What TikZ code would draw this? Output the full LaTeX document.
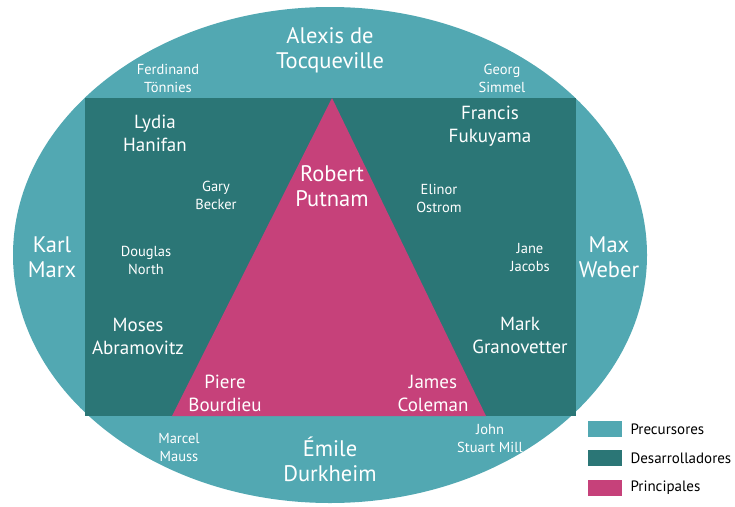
\documentclass[tikz,border=0pt]{standalone}
\usepackage{fontspec}
\setmainfont{PT Sans}
\definecolor{precur}{HTML}{52A8B2}
\definecolor{desarr}{HTML}{2B7676}
\definecolor{princ}{HTML}{C6417A}

\begin{document}
\begin{tikzpicture}[x=1pt, y=-1pt,
    big/.style={text=white, align=center, font=\fontsize{22.5}{25}\selectfont},
    mid/.style={text=white, align=center, font=\fontsize{19}{23}\selectfont},
    small/.style={text=white, align=center, font=\fontsize{14.5}{18}\selectfont},
    legend/.style={font=\fontsize{15}{17}\selectfont, anchor=west}]
    \useasboundingbox (0,0) rectangle (735,506);

    % capas del diagrama
    \fill[precur] (330,255) ellipse [x radius=317, y radius=248];
    \fill[desarr] (85,98) rectangle (576,416);
    \fill[princ] (332,98) -- (486,416) -- (172,416) -- cycle;

    % precursores
    \node[big] (tocq) at (330,50) {Alexis de\\Tocqueville};
    \node[small] (tonn) at (168,78) {Ferdinand\\Tönnies};
    \node[small] (simm) at (502,78) {Georg\\Simmel};
    \node[big] (marx) at (52,257) {Karl\\Marx};
    \node[big] (weber) at (609,257) {Max\\Weber};
    \node[small] (mauss) at (179,448) {Marcel\\Mauss};
    \node[big] (durk) at (330,459) {Émile\\Durkheim};
    \node[small] (mill) at (490,439) {John\\Stuart Mill};

    % desarrolladores
    \node[mid] (hani) at (155,133) {Lydia\\Hanifan};
    \node[mid] (fuku) at (490,126) {Francis\\Fukuyama};
    \node[small] (beck) at (216,195) {Gary\\Becker};
    \node[small] (ostr) at (439,198) {Elinor\\Ostrom};
    \node[small] (nort) at (146,260) {Douglas\\North};
    \node[small] (jaco) at (530,258) {Jane\\Jacobs};
    \node[mid] (abra) at (138,336) {Moses\\Abramovitz};
    \node[mid] (gran) at (520,335) {Mark\\Granovetter};

    % principales
    \node[big] (putn) at (332,186) {Robert\\Putnam};
    \node[mid] (bour) at (225,393) {Piere\\Bourdieu};
    \node[mid] (cole) at (433,393) {James\\Coleman};

    % leyenda
    \fill[precur] (588,421) rectangle (622,437);
    \fill[desarr] (588,450) rectangle (622,466);
    \fill[princ] (588,480) rectangle (622,496);
    \node[legend] (lp) at (627,429) {Precursores};
    \node[legend] (ld) at (627,458) {Desarrolladores};
    \node[legend] (lr) at (627,488) {Principales};
\end{tikzpicture}
\end{document}
